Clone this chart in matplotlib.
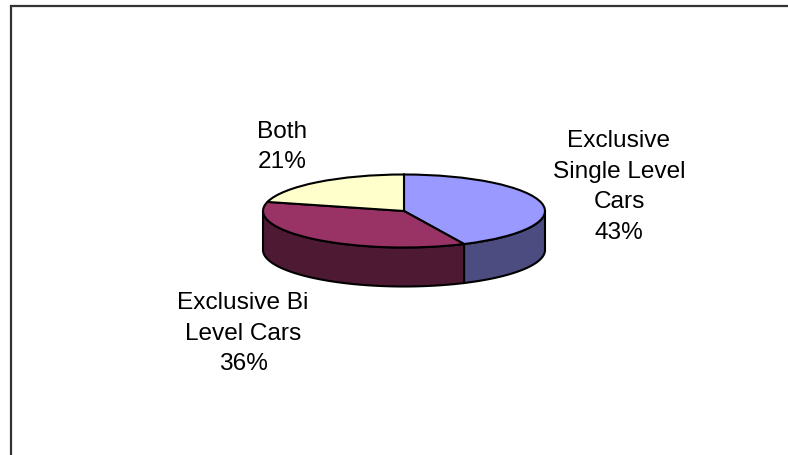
import numpy as np
import matplotlib
matplotlib.use("Agg")
import matplotlib.pyplot as plt
from matplotlib.patches import Wedge, Polygon
from matplotlib.transforms import Affine2D

# =====================================================
# Data
# =====================================================

labels = ["Exclusive\nSingle Level\nCars", "Exclusive Bi\nLevel Cars", "Both"]
shares = [43, 36, 21]

top_colors = ["#9999FF", "#993366", "#FFFFCC"]
side_colors = ["#4C4C80", "#4D1933", "#80806A"]

# label anchors (pixel coords of the figure)
label_pos = [(619, 187), (243, 334), (282, 147)]

# =====================================================
# Figure
# =====================================================

W, H = 788, 456
fig = plt.figure(figsize=(W / 100, H / 100), dpi=100)
ax = fig.add_axes([0, 0, 1, 1])
ax.set_xlim(0, W)
ax.set_ylim(H, 0)
ax.axis("off")

plt.rcParams["font.family"] = ["Liberation Sans", "DejaVu Sans"]

# frame (only left and top edges are visible in the crop)
ax.plot([11, 11, W + 5], [H + 5, 7, 7], color="#333333", lw=1.6,
        solid_joinstyle="miter", clip_on=False)

# =====================================================
# 3D pie
# =====================================================

cx, cy = 404, 212
rx, ry = 141, 36.5
depth = 39

tr = Affine2D().scale(rx, -ry).translate(cx, cy) + ax.transData
dz = depth / ry

fracs = np.array(shares) / np.sum(shares)
ends = 90 - np.cumsum(fracs) * 360
starts = np.concatenate([[90], ends[:-1]])

# side walls, only the front half (-180..0 deg) is visible
for a_end, a_start, sc in zip(ends, starts, side_colors):
    lo = max(a_end, -180)
    hi = min(a_start, 0)
    if lo >= hi:
        continue
    t = np.radians(np.linspace(lo, hi, 80))
    top = np.column_stack([np.cos(t), np.sin(t)])
    bot = top[::-1] - [0, dz]
    ax.add_patch(Polygon(np.vstack([top, bot]), closed=True,
                         facecolor=sc, edgecolor="black", lw=1.5,
                         transform=tr))

# top faces
for a_end, a_start, tc in zip(ends, starts, top_colors):
    ax.add_patch(Wedge((0, 0), 1, a_end, a_start, facecolor=tc,
                       edgecolor="black", lw=1.5, transform=tr))

# =====================================================
# Labels
# =====================================================

for lab, s, (x, y) in zip(labels, shares, label_pos):
    ax.text(x, y, f"{lab}\n{s}%", ha="center", va="center",
            multialignment="center", fontsize=17.6, linespacing=1.5,
            color="black")

fig.savefig("out.png", dpi=100)
